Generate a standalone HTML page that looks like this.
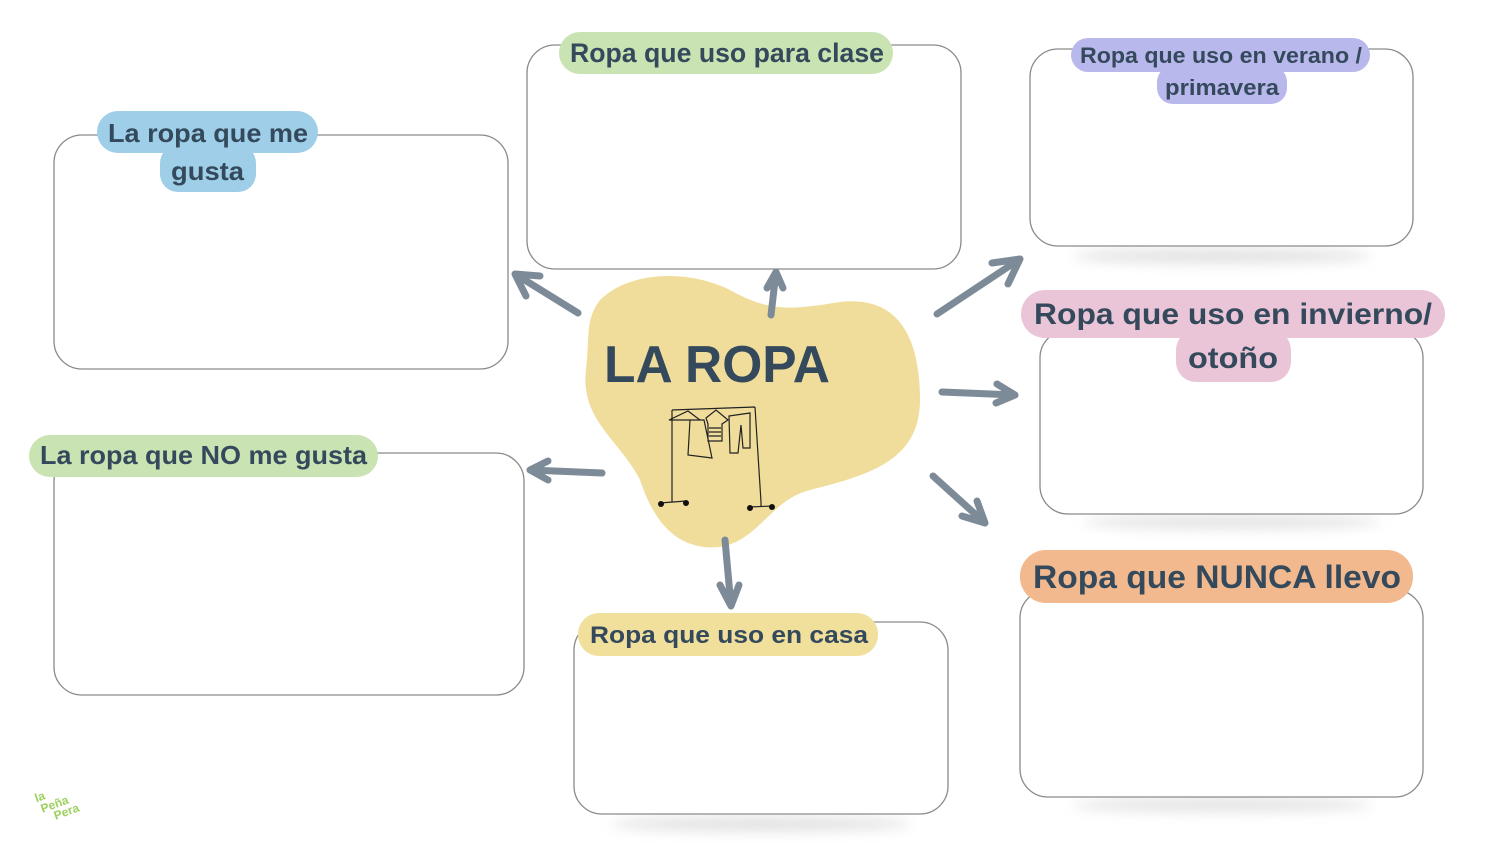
<!DOCTYPE html>
<html><head><meta charset="utf-8"><style>
html,body{margin:0;padding:0;background:#fff;}
svg{display:block;}
text{font-family:"Liberation Sans",sans-serif;font-weight:bold;fill:#344a5c;}
</style></head><body>
<svg width="1500" height="843" viewBox="0 0 1500 843" xmlns="http://www.w3.org/2000/svg">
<defs>
<filter id="b" x="-20%" y="-200%" width="140%" height="500%"><feGaussianBlur stdDeviation="6"/></filter>
</defs>
<!-- shadows -->
<g fill="#d8d8d8" filter="url(#b)" opacity="0.7">
<ellipse cx="1222" cy="256" rx="150" ry="8"/>
<ellipse cx="1232" cy="522" rx="150" ry="7"/>
<ellipse cx="1222" cy="805" rx="150" ry="7"/>
<ellipse cx="761" cy="824" rx="150" ry="8"/>
</g>
<!-- boxes -->
<g fill="#fff" stroke="#8a8a8a" stroke-width="1.3">
<rect x="54" y="135" width="454" height="234" rx="28"/>
<rect x="527" y="45" width="434" height="224" rx="28"/>
<rect x="1030" y="49" width="383" height="197" rx="28"/>
<rect x="1040" y="330" width="383" height="184" rx="28"/>
<rect x="54" y="453" width="470" height="242" rx="28"/>
<rect x="574" y="622" width="374" height="192" rx="28"/>
<rect x="1020" y="590" width="403" height="207" rx="28"/>
</g>
<!-- blob -->
<path d="M600,300 C630,270 690,270 730,290 C770,312 790,310 840,302 C900,295 920,340 920,400 C920,460 870,475 810,490 C770,500 760,540 720,547 C670,552 650,510 640,480 C620,440 580,420 586,370 C590,335 585,320 600,300 Z" fill="#f0dd9c"/>
<text x="604" y="382" font-size="52" textLength="226" lengthAdjust="spacingAndGlyphs">LA ROPA</text>
<!-- rack -->
<g stroke="#222" stroke-width="1.2" fill="none">
<path d="M672,410 L755,407 M672,410 L672,498 M755,407 L761,502 M660,503 L686,501 M748,507 L774,506 M672,498 L672,502 M761,502 L761,506"/>
<path d="M669,420 L688,411 L700,420 Z M690,420 L688,455 L712,458 L704,420 Z M706,418 L716,410 L728,420 L722,424 L722,441 L708,441 L708,424 Z M729,416 L750,413 L750,448 L743,448 L741,425 L738,453 L730,453 Z"/>
<path d="M709,428 H721 M709,432 H721 M709,436 H721"/>
</g>
<g fill="#111"><circle cx="661" cy="504" r="3"/><circle cx="686" cy="503" r="3"/><circle cx="750" cy="508" r="3"/><circle cx="772" cy="507" r="3"/></g>
<!-- arrows -->
<g stroke="#7d8b98" stroke-width="7" stroke-linecap="round" stroke-linejoin="round" fill="none">
<path d="M578,313 L515,274 M515,274 L540,276 M515,274 L526,296"/>
<path d="M771,315 L776,272 M776,272 L767,288 M776,272 L783,288"/>
<path d="M937,314 L1020,259 M1020,259 L992,263 M1020,259 L1008,284"/>
<path d="M942,392 L1015,395 M1015,395 L997,384 M1015,395 L996,403"/>
<path d="M933,476 L985,523 M985,523 L977,501 M985,523 L962,516"/>
<path d="M725,540 L731,606 M731,606 L720,585 M731,606 L739,585"/>
<path d="M602,473 L530,470 M530,470 L548,461 M530,470 L548,480"/>
</g>
<!-- labels -->
<g>
<rect x="97" y="111" width="221" height="42" rx="21" fill="#9fcfe8"/>
<rect x="160" y="145" width="96" height="47" rx="18" fill="#9fcfe8"/>
<text x="108" y="142" font-size="26" textLength="200" lengthAdjust="spacingAndGlyphs">La ropa que me</text>
<text x="171" y="180" font-size="26" textLength="73" lengthAdjust="spacingAndGlyphs">gusta</text>

<rect x="559" y="32" width="334" height="42" rx="21" fill="#c9e3b2"/>
<text x="570" y="62" font-size="27" textLength="314" lengthAdjust="spacingAndGlyphs">Ropa que uso para clase</text>

<rect x="1071" y="38" width="299" height="34" rx="17" fill="#b9b8ec"/>
<rect x="1157" y="66" width="130" height="38" rx="16" fill="#b9b8ec"/>
<text x="1080" y="63" font-size="22" textLength="282" lengthAdjust="spacingAndGlyphs">Ropa que uso en verano /</text>
<text x="1165" y="95" font-size="22" textLength="114" lengthAdjust="spacingAndGlyphs">primavera</text>

<rect x="1021" y="290" width="424" height="48" rx="24" fill="#eac5d8"/>
<rect x="1176" y="330" width="115" height="52" rx="20" fill="#eac5d8"/>
<text x="1034" y="324" font-size="30" textLength="398" lengthAdjust="spacingAndGlyphs">Ropa que uso en invierno/</text>
<text x="1188" y="368" font-size="30" textLength="90" lengthAdjust="spacingAndGlyphs">otoño</text>

<rect x="29" y="435" width="349" height="42" rx="21" fill="#c9e3b2"/>
<text x="40" y="464" font-size="26" textLength="327" lengthAdjust="spacingAndGlyphs">La ropa que NO me gusta</text>

<rect x="578" y="613" width="300" height="43" rx="21" fill="#f1df9c"/>
<text x="590" y="643" font-size="24" textLength="278" lengthAdjust="spacingAndGlyphs">Ropa que uso en casa</text>

<rect x="1020" y="550" width="393" height="53" rx="26" fill="#f2b98e"/>
<text x="1033" y="588" font-size="32" textLength="368" lengthAdjust="spacingAndGlyphs">Ropa que NUNCA llevo</text>
</g>
<!-- logo -->
<g font-size="12" style="fill:#9ccf5e" transform="rotate(-20 58 803)">
<text x="38" y="795" style="fill:#9ccf5e">la</text>
<text x="40" y="807" style="fill:#9ccf5e">Peña</text>
<text x="50" y="818" style="fill:#9ccf5e">Pera</text>
</g>
</svg>
</body></html>
